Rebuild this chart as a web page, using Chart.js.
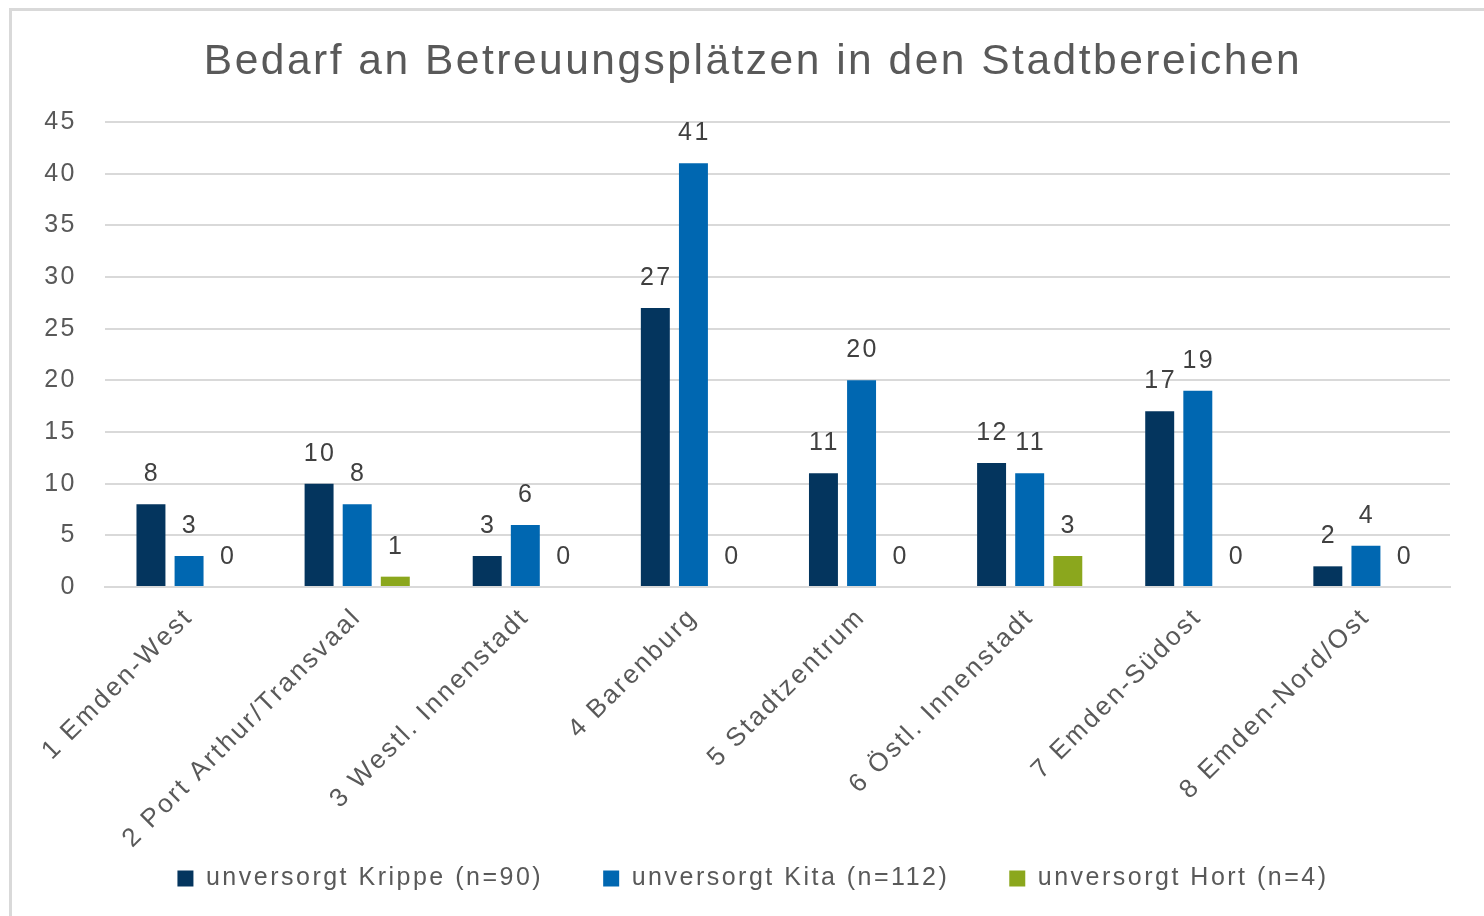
<!DOCTYPE html>
<html>
<head>
<meta charset="utf-8">
<script src="https://cdn.jsdelivr.net/npm/chart.js@4/dist/chart.umd.min.js"></script>
<style>
  html, body { margin: 0; padding: 0; background: #fff; overflow: hidden; }
  #frame {
    position: absolute; left: 9px; top: 8px; width: 1500px; height: 930px;
    border: 3px solid #d9d9d9; box-sizing: border-box;
  }
  #wrap { position: absolute; left: 0; top: 0; width: 1484px; height: 916px; }
</style>
</head>
<body>
<div id="frame"></div>
<div id="wrap"><canvas id="chart"></canvas></div>
<script>
const categories = [
  "1 Emden-West", "2 Port Arthur/Transvaal", "3 Westl. Innenstadt", "4 Barenburg",
  "5 Stadtzentrum", "6 Östl. Innenstadt", "7 Emden-Südost", "8 Emden-Nord/Ost"
];
const krippe = [8, 10, 3, 27, 11, 12, 17, 2];
const kita = [3, 8, 6, 41, 20, 11, 19, 4];
const hort = [0, 1, 0, 0, 0, 3, 0, 0];
const yTicks = [0, 5, 10, 15, 20, 25, 30, 35, 40, 45];

const font = "'Liberation Sans', Arial, sans-serif";
const textColor = "#595959";

// the original font is set wide, so space the letters out a bit
const spacing = {
  id: "spacing",
  beforeUpdate(chart) { chart.ctx.letterSpacing = "2.5px"; },
  beforeDraw(chart) { chart.ctx.letterSpacing = "2.5px"; },
  // let tick labels run outside their scale boxes instead of being clipped
  afterLayout(chart) {
    Object.values(chart.scales).forEach(s => { s._computeLabelArea = () => undefined; });
  }
};

// value labels above each bar
const valueLabels = {
  id: "valueLabels",
  afterDatasetsDraw(chart) {
    const ctx = chart.ctx;
    ctx.save();
    ctx.font = "25px " + font;
    ctx.fillStyle = "#404040";
    ctx.textAlign = "center";
    ctx.textBaseline = "middle";
    chart.data.datasets.forEach((ds, i) => {
      chart.getDatasetMeta(i).data.forEach((bar, j) => {
        ctx.fillText(String(ds.data[j]), bar.x + 1, bar.y - 30);
      });
    });
    ctx.restore();
  }
};

new Chart(document.getElementById("chart"), {
  type: "bar",
  data: {
    labels: categories,
    datasets: [
      { label: "unversorgt Krippe (n=90)", data: krippe, backgroundColor: "#04355e" },
      { label: "unversorgt Kita (n=112)", data: kita, backgroundColor: "#0067b1" },
      { label: "unversorgt Hort (n=4)", data: hort, backgroundColor: "#8ba71d" }
    ]
  },
  options: {
    responsive: true,
    maintainAspectRatio: false,
    animation: false,
    datasets: { bar: { categoryPercentage: 0.68, barPercentage: 0.76 } },
    layout: { padding: { left: 56, right: 34, top: 23, bottom: 15 } },
    plugins: {
      title: {
        display: true,
        text: "Bedarf an Betreuungsplätzen in den Stadtbereichen",
        color: textColor,
        font: { family: font, size: 42.5, weight: "normal" },
        padding: { top: 14, bottom: 34 }
      },
      legend: {
        position: "bottom",
        labels: {
          color: textColor,
          font: { family: font, size: 25 },
          boxWidth: 16,
          boxHeight: 16,
          padding: 60
        }
      },
      tooltip: { enabled: false }
    },
    scales: {
      y: {
        min: 0,
        max: 45,
        afterBuildTicks: (scale) => { scale.ticks = yTicks.map(v => ({ value: v })); },
        afterFit: (scale) => { scale.width = 49; },
        border: { display: false },
        grid: { color: "#d9d9d9", lineWidth: 2, drawTicks: false },
        ticks: { color: textColor, font: { family: font, size: 25 }, padding: 28 }
      },
      x: {
        border: { color: "#d9d9d9", width: 2 },
        grid: { display: false },
        afterFit: (scale) => { scale.height = 219; },
        ticks: {
          color: textColor,
          font: { family: font, size: 26 },
          maxRotation: 45,
          minRotation: 45,
          padding: 7
        }
      }
    }
  },
  plugins: [spacing, valueLabels]
});
</script>
</body>
</html>
